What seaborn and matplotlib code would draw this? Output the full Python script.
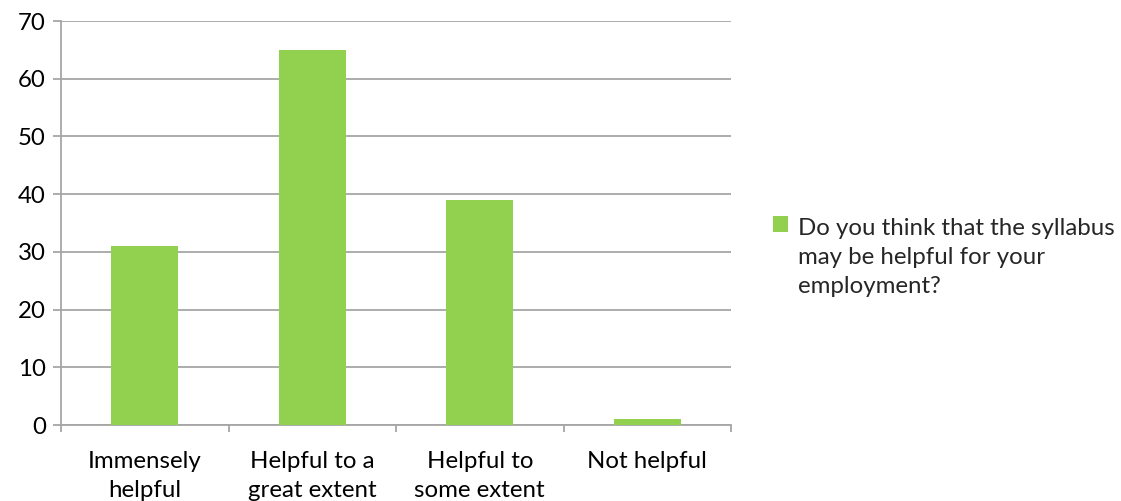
import matplotlib
matplotlib.use("Agg")
import matplotlib.pyplot as plt
import seaborn as sns
import pandas as pd
import numpy as np
from matplotlib.patches import Patch, Rectangle
from matplotlib.legend_handler import HandlerPatch

categories = ["Immensely\nhelpful", "Helpful to a\ngreat extent", "Helpful to\nsome extent", "Not helpful"]
values = [31, 65, 39, 1]
series_name = "Do you think that the syllabus\nmay be helpful for your\nemployment?"
yticks = [0, 10, 20, 30, 40, 50, 60, 70]

sns.set_theme(style="white")
plt.rcParams['font.family'] = ['Lato', 'DejaVu Sans']

green = "#92D050"
grid_c = "#A6A6A6"
FS = 17.3
LS = 1.48

df = pd.DataFrame({"cat": categories, "val": values})

fig = plt.figure(figsize=(11.21, 5.01), dpi=100)
ax = fig.add_axes([61/1121, 1-425/501, 670/1121, 404/501])
sns.barplot(data=df, x="cat", y="val", color=green, width=0.4, ax=ax,
            saturation=1, linewidth=0, edgecolor="none", zorder=3)

ax.set_xlim(-0.5, len(categories)-0.5)
ax.set_ylim(0, 70)
ax.set_yticks(yticks)
ax.set_xlabel("")
ax.set_ylabel("")
ax.yaxis.grid(True, color=grid_c, linewidth=1.3, zorder=0)
ax.set_axisbelow(True)
for s in ["top", "right"]:
    ax.spines[s].set_visible(False)
for s in ["left", "bottom"]:
    ax.spines[s].set_color(grid_c)
    ax.spines[s].set_linewidth(1.3)

ax.tick_params(axis="y", length=6, width=1.3, color=grid_c, labelsize=FS, pad=5, labelcolor="black", left=True)
ax.tick_params(axis="x", which="major", length=0, labelsize=FS, pad=18.5, labelcolor="black")
ax.set_xticks(np.arange(-0.5, len(categories), 1.0), minor=True)
ax.tick_params(axis="x", which="minor", length=5, width=1.3, color=grid_c, bottom=True)
for t in ax.get_xticklabels():
    t.set_linespacing(LS)


class TopSquare(HandlerPatch):
    def create_artists(self, legend, orig_handle, xdescent, ydescent, width, height, fontsize, trans):
        shift = LS * fontsize * 0.95
        r = Rectangle((-xdescent, -ydescent + shift), width, height,
                      facecolor=orig_handle.get_facecolor(), edgecolor="none", transform=trans)
        return [r]


handles = [Patch(facecolor=green, edgecolor="none", label=series_name)]
leg = fig.legend(handles=handles, loc="upper left", bbox_to_anchor=(773/1121, 1-218/501),
                 frameon=False, fontsize=FS, handlelength=0.62, handleheight=0.62, handletextpad=0.42,
                 borderaxespad=0, borderpad=0, handler_map={Patch: TopSquare()})
for t in leg.get_texts():
    t.set_linespacing(LS)

fig.savefig("out.png", dpi=100)
